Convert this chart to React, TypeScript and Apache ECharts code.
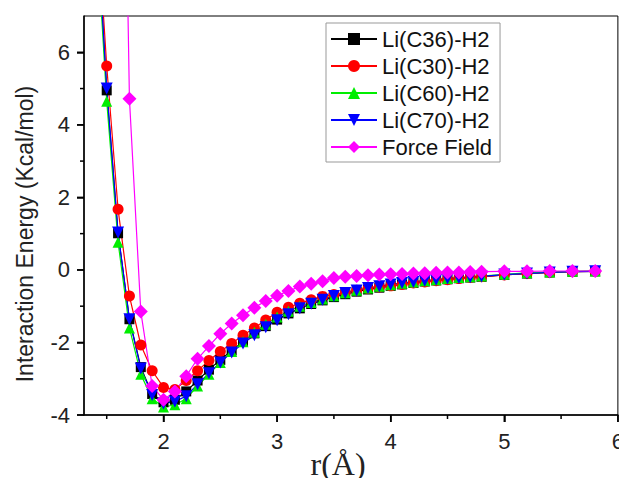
import React, { useEffect, useRef } from "react";
import * as echarts from "echarts";

const rValues = [1.4, 1.5, 1.6, 1.7, 1.8, 1.9, 2.0, 2.1, 2.2, 2.3, 2.4, 2.5, 2.6, 2.7, 2.8, 2.9, 3.0, 3.1, 3.2, 3.3, 3.4, 3.5, 3.6, 3.7, 3.8, 3.9, 4.0, 4.1, 4.2, 4.3, 4.4, 4.5, 4.6, 4.7, 4.8, 5.0, 5.2, 5.4, 5.6, 5.8];

const c36 = [10.2, 4.95, 1.01, -1.36, -2.68, -3.42, -3.65, -3.58, -3.35, -3.05, -2.75, -2.48, -2.22, -1.98, -1.75, -1.55, -1.37, -1.2, -1.06, -0.94, -0.84, -0.75, -0.67, -0.6, -0.54, -0.49, -0.44, -0.4, -0.36, -0.32, -0.29, -0.26, -0.23, -0.21, -0.19, -0.14, -0.1, -0.07, -0.05, -0.04];
const c30 = [10.5, 5.62, 1.67, -0.72, -2.07, -2.78, -3.24, -3.3, -3.05, -2.78, -2.5, -2.25, -2.03, -1.8, -1.6, -1.38, -1.17, -1.03, -0.92, -0.82, -0.73, -0.68, -0.62, -0.56, -0.51, -0.47, -0.44, -0.4, -0.36, -0.33, -0.3, -0.27, -0.24, -0.21, -0.19, -0.14, -0.1, -0.07, -0.05, -0.04];
const c60 = [9.9, 4.65, 0.76, -1.6, -2.88, -3.55, -3.78, -3.72, -3.55, -3.2, -2.88, -2.55, -2.25, -1.98, -1.72, -1.5, -1.3, -1.14, -1.0, -0.9, -0.8, -0.71, -0.63, -0.56, -0.5, -0.45, -0.41, -0.37, -0.33, -0.3, -0.27, -0.24, -0.21, -0.19, -0.17, -0.12, -0.08, -0.06, -0.04, -0.03];
const c70 = [10.3, 5.0, 1.03, -1.36, -2.72, -3.45, -3.68, -3.63, -3.48, -3.15, -2.85, -2.55, -2.28, -2.03, -1.8, -1.58, -1.39, -1.22, -1.06, -0.93, -0.82, -0.72, -0.64, -0.57, -0.5, -0.45, -0.4, -0.36, -0.33, -0.3, -0.27, -0.24, -0.22, -0.2, -0.18, -0.13, -0.1, -0.07, -0.05, -0.04];

const ffR = [1.6, 1.7, 1.8, 1.9, 2.0, 2.1, 2.2, 2.3, 2.4, 2.5, 2.6, 2.7, 2.8, 2.9, 3.0, 3.1, 3.2, 3.3, 3.4, 3.5, 3.6, 3.7, 3.8, 3.9, 4.0, 4.1, 4.2, 4.3, 4.4, 4.5, 4.6, 4.7, 4.8, 5.0, 5.2, 5.4, 5.6, 5.8];
const forceField = [23, 4.72, -1.15, -3.2, -3.58, -3.35, -2.93, -2.45, -2.1, -1.76, -1.48, -1.25, -1.04, -0.86, -0.71, -0.58, -0.46, -0.38, -0.31, -0.22, -0.19, -0.17, -0.15, -0.13, -0.12, -0.11, -0.1, -0.09, -0.08, -0.07, -0.07, -0.06, -0.05, -0.04, -0.04, -0.03, -0.03, -0.03];

const xLabelValues = [2, 3, 4, 5, 6];
const xMinorValues = [1.5, 2.5, 3.5, 4.5, 5.5];
const yLabelValues = [-4, -2, 0, 2, 4, 6];
const yMinorValues = [-3, -1, 1, 3, 5];

const seriesNames = ["Li(C36)-H2", "Li(C30)-H2", "Li(C60)-H2", "Li(C70)-H2", "Force Field"];

const FONT = "'Liberation Sans', Arial, sans-serif";

const X_MIN = 1.3, X_MAX = 6, Y_MIN = -4, Y_MAX = 7;
const W = 627, H = 486;

function pairs(xs: number[], ys: number[]) {
  return xs.map((x, i) => [x, ys[i]]);
}

export default function App() {
  const ref = useRef<HTMLDivElement>(null);
  useEffect(() => {
    if (!ref.current) return;
    const chart = echarts.init(ref.current, null, { renderer: "svg" });
    const mk = (name: string, data: number[][], color: string, symbol: string, size: number, rotate = 0) => ({
      name,
      type: "line",
      data,
      symbol,
      symbolSize: size,
      symbolRotate: rotate,
      showAllSymbol: true,
      clip: true,
      lineStyle: { color, width: 1.2 },
      itemStyle: { color },
    });
    const titles = [
      {
        type: "text",
        x: 25,
        y: 234,
        rotation: Math.PI / 2,
        style: {
          text: "Interaction Energy (Kcal/mol)",
          fontSize: 23,
          fontFamily: FONT,
          fill: "#222",
          align: "center",
          verticalAlign: "middle",
        },
      },
      {
        type: "text",
        x: 338,
        y: 464,
        style: {
          text: "r(Å)",
          fontSize: 32,
          fontFamily: "'Liberation Serif', 'Times New Roman', serif",
          fill: "#222",
          align: "center",
          verticalAlign: "middle",
        },
      },
    ];
    chart.setOption({
      animation: false,
      grid: { left: 84, right: 5, top: 16, bottom: 71, show: true, borderColor: "#000", borderWidth: 1 },
      legend: {
        orient: "vertical",
        left: 326,
        top: 23,
        data: seriesNames,
        borderColor: "#999",
        borderWidth: 1,
        padding: [4, 8, 3, 4],
        itemGap: 3,
        itemWidth: 46,
        itemHeight: 15,
        textStyle: { fontSize: 22, lineHeight: 24, fontFamily: FONT, color: "#111" },
        backgroundColor: "#fff",
      },
      xAxis: {
        type: "value",
        min: X_MIN,
        max: X_MAX,
        splitLine: { show: false },
        axisLine: { show: true, onZero: false, lineStyle: { color: "#000", width: 1.5 } },
        axisTick: { show: true, length: 7, customValues: xLabelValues, lineStyle: { color: "#000", width: 1.5 } },
        axisLabel: { customValues: xLabelValues, fontSize: 22, fontFamily: FONT, color: "#222", margin: 15 },
      },
      yAxis: {
        type: "value",
        min: Y_MIN,
        max: Y_MAX,
        splitLine: { show: false },
        axisLine: { show: true, onZero: false, lineStyle: { color: "#000", width: 1.5 } },
        axisTick: { show: true, length: 7, customValues: yLabelValues, lineStyle: { color: "#000", width: 1.5 } },
        axisLabel: { customValues: yLabelValues, fontSize: 22, fontFamily: FONT, color: "#222", margin: 14 },
      },
      graphic: titles,
      series: [
        mk(seriesNames[0], pairs(rValues, c36), "#000000", "rect", 10),
        mk(seriesNames[1], pairs(rValues, c30), "#ff0000", "circle", 11),
        mk(seriesNames[2], pairs(rValues, c60), "#00ee00", "triangle", 11),
        mk(seriesNames[3], pairs(rValues, c70), "#0000ff", "triangle", 12, 180),
        mk(seriesNames[4], pairs(ffR, forceField), "#ff00ff", "diamond", 14),
      ],
    });

    // axis ticks placed through the chart's own coordinate conversion
    const toPx = (x: number, y: number) => chart.convertToPixel({ xAxisIndex: 0, yAxisIndex: 0 }, [x, y]) as number[];
    const ticks: any[] = [];
    const addX = (vals: number[], len: number) =>
      vals.forEach((v) => {
        const p = toPx(v, Y_MIN);
        if (!p) return;
        ticks.push({ type: "rect", z: 100, shape: { x: p[0] - 0.75, y: p[1], width: 1.5, height: len }, style: { fill: "#000" } });
      });
    const addY = (vals: number[], len: number) =>
      vals.forEach((v) => {
        const p = toPx(X_MIN, v);
        if (!p) return;
        ticks.push({ type: "rect", z: 100, shape: { x: p[0] - len, y: p[1] - 0.75, width: len, height: 1.5 }, style: { fill: "#000" } });
      });
    addX(xLabelValues, 7);
    addX(xMinorValues, 4);
    addY(yLabelValues, 7);
    addY(yMinorValues, 4);
    chart.setOption({ graphic: [...titles, ...ticks] });

    return () => chart.dispose();
  }, []);
  return <div ref={ref} style={{ width: W, height: H, margin: -8 }} />;
}
